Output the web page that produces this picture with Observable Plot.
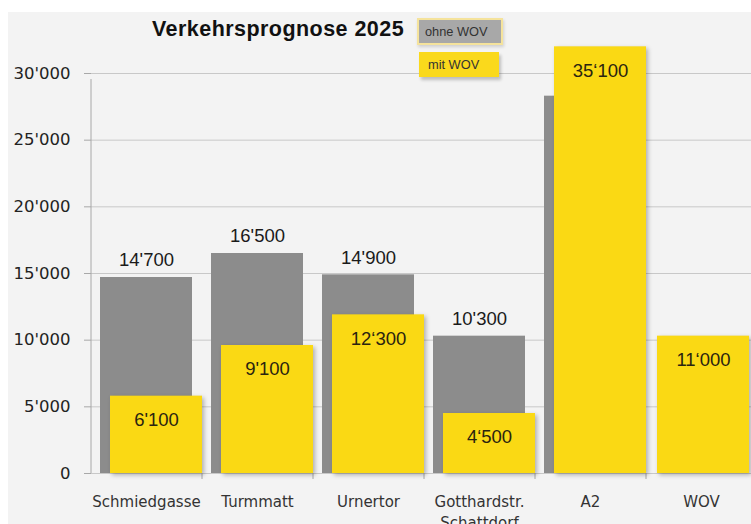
<!DOCTYPE html>
<html><head><meta charset="utf-8">
<script src="https://cdn.jsdelivr.net/npm/d3@7"></script>
<script src="https://cdn.jsdelivr.net/npm/@observablehq/plot@0.6"></script>
<style>
body{margin:0;background:#fff;}
#wrap{position:relative;width:751px;height:524px;overflow:hidden;background:#fff;}
#chart{position:absolute;left:8px;top:12px;}
#title{position:absolute;left:152px;top:17px;font:bold 21.5px "Liberation Sans",Arial,sans-serif;color:#111;white-space:nowrap;letter-spacing:0.45px;}
.leg{position:absolute;font:12.8px "Liberation Sans",Arial,sans-serif;color:#333;box-sizing:border-box;white-space:nowrap;}
#leg1{left:417px;top:18px;width:86px;height:27px;background:#a8a8a8;border:2px solid #f5e39c;padding:4px 0 0 6px;box-shadow:1px 2px 3px rgba(0,0,0,0.15);}
#leg2{left:419px;top:52px;width:80px;height:25px;background:#fad91c;padding:5px 0 0 9px;box-shadow:2px 3px 3px rgba(0,0,0,0.22);}
</style>
</head><body>
<div id="wrap">
  <div id="chart"></div>
  <div id="title">Verkehrsprognose 2025</div>
  <div class="leg" id="leg1">ohne WOV</div>
  <div class="leg" id="leg2">mit WOV</div>
</div>
<script>
const categories = ["Schmiedgasse", "Turmmatt", "Urnertor", "Gotthardstr. Schattdorf", "A2", "WOV"];
const tickLabels = ["Schmiedgasse", "Turmmatt", "Urnertor", "Gotthardstr.\nSchattdorf", "A2", "WOV"];
const ohneWOV = [14700, 16500, 14900, 10300, 28300, null];
const mitWOV = [5800, 9600, 11900, 4500, 32000, 10300];
const ohneLabels = ["14'700", "16'500", "14'900", "10'300", "", ""];
const mitLabels = ["6'100", "9'100", "12\u2018300", "4\u2018500", "35\u2018100", "11\u2018000"];
const yTicks = [0, 5000, 10000, 15000, 20000, 25000, 30000];

const W = 743, H = 512, ML = 83, MT = 61, MB = 51;
const xRange = [ML, 749];
const step = (xRange[1] - xRange[0]) / categories.length;
const shiftOverlap = 10, shiftAlone = 2;
const idx = categories.map((_, i) => i);
const withGray = idx.filter(i => ohneWOV[i] != null);
const noGray = idx.filter(i => ohneWOV[i] == null);
const fmt = d => d3.format(",")(d).replace(/,/g, "'");
const labelFont = "Liberation Sans, Arial, sans-serif";

const yellowBar = (data, dx) => Plot.barY(data, {x: i => categories[i], y: i => mitWOV[i], fill: "#fad914", dx, ariaDescription: "mit"});
const yellowText = (data, dx) => Plot.text(data, {x: i => categories[i], y: i => mitWOV[i], text: i => mitLabels[i], dx, dy: 24,
  fontSize: 18.5, fontFamily: labelFont, fill: "#2a2410"});

const chart = Plot.plot({
  width: W, height: H,
  marginLeft: ML, marginRight: 0, marginTop: MT, marginBottom: MB,
  style: {background: "#f3f3f3", fontFamily: "DejaVu Sans, sans-serif", color: "#222"},
  x: {domain: categories, range: xRange, paddingInner: 0.17, paddingOuter: 0.085},
  y: {domain: [0, 30000]},
  marks: [
    Plot.ruleY(yTicks, {stroke: "#c8c8c8", strokeWidth: 1}),
    Plot.ruleX([categories[0]], {x: d => d, y1: 0, y2: 30000, dx: -step / 2, insetBottom: -6, stroke: "#a8a8a8"}),
    Plot.ruleX(categories.slice(1), {x: d => d, y1: 0, y2: 0, dx: -step / 2, insetBottom: -6, stroke: "#a8a8a8"}),
    Plot.barY(idx, {x: i => categories[i], y: i => ohneWOV[i], fill: "#8c8c8c"}),
    yellowBar(withGray, shiftOverlap),
    yellowBar(noGray, shiftAlone),
    Plot.text(idx, {x: i => categories[i], y: i => ohneWOV[i], text: i => ohneLabels[i], dy: -17,
      fontSize: 18.5, fontFamily: labelFont, fill: "#1a1a1a"}),
    yellowText(withGray, shiftOverlap),
    yellowText(noGray, shiftAlone),
    Plot.axisY({ticks: yTicks, tickFormat: fmt, tickSize: 7, tickPadding: 14, fontSize: 16.5, stroke: "#a8a8a8", fill: "#222"}),
    Plot.axisX({tickSize: 0, tickPadding: 19, fontSize: 15, fill: "#333",
      tickFormat: d => tickLabels[categories.indexOf(d)], lineHeight: 1.4})
  ]
});
document.getElementById("chart").appendChild(chart);
d3.select(chart).selectAll('g[aria-description="mit"] rect')
  .style("filter", "drop-shadow(2px 2px 2px rgba(0,0,0,0.28))");
</script>
</body></html>
